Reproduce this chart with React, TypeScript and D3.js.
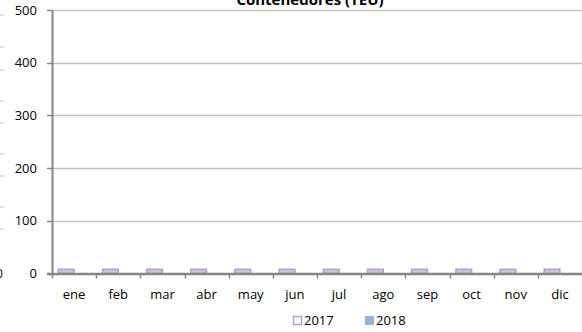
import React from "react";
import * as d3 from "d3";

const categories = ["ene","feb","mar","abr","may","jun","jul","ago","sep","oct","nov","dic"];
const series2017 = [8,8,8,8,8,8,8,8,8,8,8,8];
const series2018 = [0,0,0,0,0,0,0,0,0,0,0,0];
const yTicks = [0,100,200,300,400,500];
const seriesNames = ["2017","2018"];
const title = "Contenedores (TEU)";
const leftMarks = [15, 47, 70, 101, 123, 154, 176, 207, 229];

export default function App() {
  const W = 582, H = 332;
  const x0 = 52, x1 = 582, yTop = 10, yBot = 273.5;
  const y = d3.scaleLinear().domain([0, 500]).range([yBot, yTop]);
  const x = d3.scaleBand().domain(categories).range([x0, x1]).paddingInner(0).paddingOuter(0);
  const inner = d3.scaleBand().domain(seriesNames).range([0, x.bandwidth()]).paddingInner(0).paddingOuter(0.4);
  const font = "'Open Sans', 'Noto Sans', sans-serif";
  const data = [series2017, series2018];
  return (
    <svg width={W} height={H} style={{ position: "absolute", left: 0, top: 0, background: "#fff" }} fontFamily={font}>
      <rect x={0} y={0} width={W} height={H} fill="#fff" />
      {leftMarks.map((m, i) => (
        <line key={"lm" + i} x1={0} x2={4} y1={m} y2={m} stroke="#bfbfbf" strokeWidth={1} />
      ))}
      <text x={-4} y={278} fontSize={12} fill="#000">0</text>
      <text x={310} y={5} textAnchor="middle" fontSize={15} fontWeight="bold" fill="#000">{title}</text>
      {yTicks.map(t => (
        <g key={"g" + t}>
          {t > 0 && <line x1={x0} x2={x1} y1={Math.round(y(t)) + 0.5} y2={Math.round(y(t)) + 0.5} stroke="#bfbfbf" strokeWidth={1.5} />}
          <line x1={x0 - 5} x2={x0} y1={Math.round(y(t)) + 0.5} y2={Math.round(y(t)) + 0.5} stroke="#868686" strokeWidth={1.5} />
          <text x={37} y={y(t) + 4.5} textAnchor="end" fontSize={13} fill="#000">{t}</text>
        </g>
      ))}
      {categories.map((c, i) => (
        <g key={c}>
          {data.map((s, j) => {
            const v = s[i];
            if (v <= 0) return null;
            const bx = (x(c) as number) + (inner(seriesNames[j]) as number);
            return (
              <rect key={j} x={bx} y={y(v)} width={inner.bandwidth()} height={yBot - y(v)}
                fill={j === 0 ? "#cdc1dc" : "#95b3d7"} stroke={j === 0 ? "#b3a2c7" : "#95b3d7"} strokeWidth={1.5} />
            );
          })}
          <text x={(x(c) as number) + x.bandwidth() / 2} y={299} textAnchor="middle" fontSize={13} fill="#000">{c}</text>
        </g>
      ))}
      {categories.map((c, i) => (
        <line key={"xt" + i} x1={Math.round(x(c) as number) + 0.5} x2={Math.round(x(c) as number) + 0.5} y1={yBot} y2={yBot + 5} stroke="#868686" strokeWidth={1.5} />
      ))}
      <line x1={x0 + 0.5} x2={x0 + 0.5} y1={yTop} y2={yBot} stroke="#868686" strokeWidth={2} />
      <line x1={x0 - 5} x2={x1} y1={yBot + 0.5} y2={yBot + 0.5} stroke="#868686" strokeWidth={2.5} />
      <rect x={293.5} y={316.5} width={8} height={8} fill="#fff" stroke="#b3a2c7" strokeWidth={1.5} />
      <text x={304} y={325} fontSize={13} fill="#000">{seriesNames[0]}</text>
      <rect x={365} y={316} width={9} height={9} fill="#95b3d7" />
      <text x={376} y={325} fontSize={13} fill="#000">{seriesNames[1]}</text>
    </svg>
  );
}
